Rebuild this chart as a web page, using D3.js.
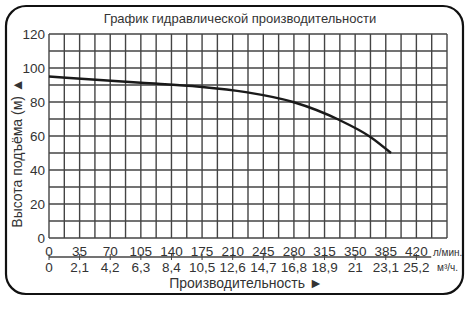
<!DOCTYPE html>
<html>
<head>
<meta charset="utf-8">
<script src="https://cdn.jsdelivr.net/npm/d3@7"></script>
<style>
  body { margin: 0; background: #fff; }
  text { font-family: "Liberation Sans", Arial, sans-serif; fill: #333; }
</style>
</head>
<body>
<div id="chart"></div>
<script>
// data
const flowTicks = [0, 35, 70, 105, 140, 175, 210, 245, 280, 315, 350, 385, 420];
const m3Labels = ["0", "2,1", "4,2", "6,3", "8,4", "10,5", "12,6", "14,7", "16,8", "18,9", "21", "23,1", "25,2"];
const headTicks = [0, 20, 40, 60, 80, 100, 120];
const curveFlow = [0, 105, 172, 225, 279, 332, 367, 391];
const curveHead = [95, 91.3, 89, 85.8, 80, 69.4, 59.6, 50];

const W = 472, H = 309;
const margin = { top: 34, right: 25, bottom: 71, left: 49 };

const svg = d3.select("#chart").append("svg")
    .attr("width", W)
    .attr("height", H);

// rounded frame
svg.append("rect")
    .attr("x", 6).attr("y", 6)
    .attr("width", 457).attr("height", 288)
    .attr("rx", 20).attr("ry", 20)
    .attr("fill", "#fff")
    .attr("stroke", "#111")
    .attr("stroke-width", 2.2);

const x = d3.scaleLinear().domain([0, 455]).range([margin.left, W - margin.right]);
const y = d3.scaleLinear().domain([0, 120]).range([H - margin.bottom, margin.top]);

// grid: every 17.5 l/min and every 10 m
const g = svg.append("g");
g.selectAll(".vg")
  .data(d3.range(0, 455.1, 17.5))
  .join("line")
    .attr("x1", d => x(d)).attr("x2", d => x(d))
    .attr("y1", y(0)).attr("y2", y(120))
    .attr("stroke", "#444").attr("stroke-width", 1.4);
g.selectAll(".hg")
  .data(d3.range(0, 120.1, 10))
  .join("line")
    .attr("x1", x(0)).attr("x2", x(455))
    .attr("y1", d => y(d)).attr("y2", d => y(d))
    .attr("stroke", "#444").attr("stroke-width", 1.4);

// y tick labels
svg.append("g")
    .attr("transform", `translate(${x(0)},0)`)
    .call(d3.axisLeft(y).tickValues(headTicks).tickSize(0).tickPadding(4))
    .call(a => a.select(".domain").remove())
    .selectAll("text")
    .attr("font-size", 13.5)
    .style("font-family", "Liberation Sans, Arial, sans-serif")
    .attr("fill", "#333");

// curve
const pts = curveFlow.map((f, i) => [f, curveHead[i]]);
svg.append("path")
    .datum(pts)
    .attr("fill", "none")
    .attr("stroke", "#1a1a1a")
    .attr("stroke-width", 2.4)
    .attr("d", d3.line().x(d => x(d[0])).y(d => y(d[1])).curve(d3.curveMonotoneX));

// two-row flow scale
const sepY = 257;
svg.append("line")
    .attr("x1", x(0)).attr("x2", x(437))
    .attr("y1", sepY).attr("y2", sepY)
    .attr("stroke", "#444").attr("stroke-width", 1.4);
svg.append("g").selectAll("line")
  .data(flowTicks)
  .join("line")
    .attr("x1", d => x(d)).attr("x2", d => x(d))
    .attr("y1", sepY - 3).attr("y2", sepY + 3)
    .attr("stroke", "#444").attr("stroke-width", 1);

svg.append("g").selectAll("text")
  .data(flowTicks)
  .join("text")
    .attr("x", d => x(d)).attr("y", sepY - 1)
    .attr("text-anchor", "middle")
    .attr("font-size", 13.5)
    .text(d => d);
svg.append("g").selectAll("text")
  .data(m3Labels)
  .join("text")
    .attr("x", (d, i) => x(flowTicks[i])).attr("y", sepY + 15)
    .attr("text-anchor", "middle")
    .attr("font-size", 13.5)
    .text(d => d);

svg.append("text")
    .attr("x", 433).attr("y", sepY - 1)
    .attr("font-size", 10)
    .text("л/мин.");
svg.append("text")
    .attr("x", 437).attr("y", sepY + 14)
    .attr("font-size", 10)
    .text("м³/ч.");

// titles
svg.append("text")
    .attr("x", 240).attr("y", 23)
    .attr("text-anchor", "middle")
    .attr("font-size", 13)
    .text("График гидравлической производительности");

svg.append("text")
    .attr("x", 246).attr("y", 288)
    .attr("text-anchor", "middle")
    .attr("font-size", 14)
    .text("Производительность ►");

svg.append("text")
    .attr("transform", "translate(22,153) rotate(-90)")
    .attr("text-anchor", "middle")
    .attr("font-size", 14)
    .text("Высота подъёма (м) ▲");
</script>
</body>
</html>
